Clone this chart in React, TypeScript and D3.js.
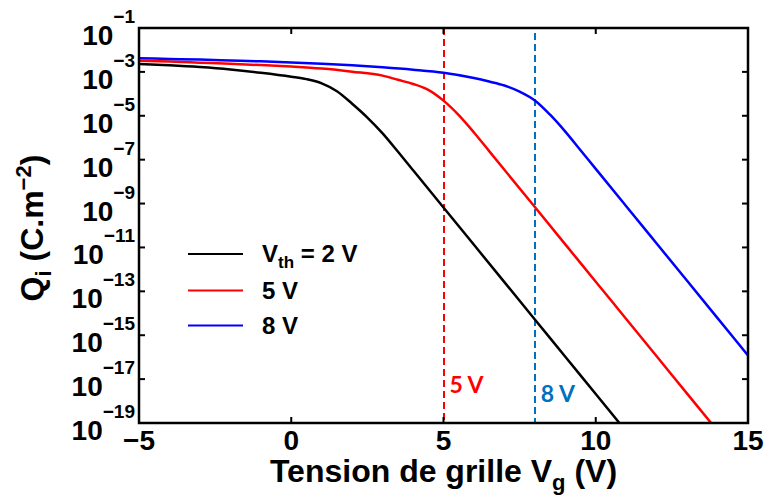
import React from 'react';
import * as d3 from 'd3';

// Gate voltage (V) and log10 of inversion charge Qi (C.m^-2)
const blackVg = [-5, -4, -3, -2, -1, 0, 0.5, 1, 1.5, 2, 2.5, 3, 3.5, 4, 5, 6, 7, 8, 9, 10, 11];
const blackLogQ = [-2.64, -2.70, -2.78, -2.89, -3.04, -3.22, -3.33, -3.52, -3.88, -4.45, -5.08, -5.80, -6.63, -7.48, -9.18, -10.88, -12.58, -14.28, -15.98, -17.68, -19.38];

const redVg = [-5, -4, -3, -2, -1, 0, 1, 2, 3, 3.5, 4, 4.5, 5, 5.5, 6, 6.5, 7, 8, 9, 10, 11, 12, 13, 14];
const redLogQ = [-2.49, -2.53, -2.58, -2.63, -2.69, -2.76, -2.85, -2.99, -3.17, -3.36, -3.55, -3.82, -4.31, -4.97, -5.76, -6.61, -7.46, -9.16, -10.86, -12.56, -14.26, -15.96, -17.66, -19.36];

const blueVg = [-5, -4, -3, -2, -1, 0, 1, 2, 3, 4, 5, 6, 6.5, 7, 7.5, 8, 8.5, 9, 9.5, 10, 11, 12, 13, 14, 15];
const blueLogQ = [-2.38, -2.41, -2.44, -2.48, -2.52, -2.57, -2.63, -2.70, -2.79, -2.90, -3.04, -3.28, -3.44, -3.62, -3.90, -4.30, -4.95, -5.72, -6.57, -7.42, -9.12, -10.82, -12.52, -14.22, -15.92];

const xTickValues = [-5, 0, 5, 10, 15];
const xTickLabels = ['\u22125', '0', '5', '10', '15'];
const yTickExponents = [-1, -3, -5, -7, -9, -11, -13, -15, -17, -19];
const thresholdLines = [5, 8];
const thresholdLabels = ['5 V', '8 V'];
const legendLabels = ['2 V', '5 V', '8 V'];

const W = 767;
const H = 502;
const M = { left: 139, right: 748, top: 28, bottom: 423 };
const FONT = '"Liberation Sans", Arial, sans-serif';

export default function App() {
  const x = d3.scaleLinear().domain([-5, 15]).range([M.left, M.right]);
  const y = d3.scaleLog().domain([1e-19, 1e-1]).range([M.bottom, M.top]);

  const line = d3
    .line<[number, number]>()
    .x((d) => x(d[0]))
    .y((d) => y(Math.pow(10, d[1])))
    .curve(d3.curveMonotoneX);

  const series = [
    { vg: blackVg, q: blackLogQ, color: '#000000' },
    { vg: redVg, q: redLogQ, color: '#ff0000' },
    { vg: blueVg, q: blueLogQ, color: '#0000ff' },
  ];

  const dashColors = ['#ff0000', '#0070c0'];
  const tickLen = 6;
  const innerYTicks = yTickExponents.filter((e) => e !== -1 && e !== -19);
  const innerXTicks = xTickValues.filter((v) => v !== -5 && v !== 15);

  const legendY = [254, 290.5, 325.5];
  const legendColors = ['#000000', '#ff0000', '#0000ff'];

  return (
    <svg width={W} height={H} style={{ position: 'absolute', left: 0, top: 0, background: '#fff' }} fontFamily={FONT}>
      <defs>
        <clipPath id="plotClip">
          <rect x={M.left} y={M.top} width={M.right - M.left} height={M.bottom - M.top} />
        </clipPath>
      </defs>

      {/* threshold dashed lines */}
      {thresholdLines.map((v, i) => (
        <line
          key={'d' + v}
          x1={Math.round(x(v))}
          x2={Math.round(x(v))}
          y1={i === 0 ? M.top : M.top + 5}
          y2={M.bottom}
          stroke={dashColors[i]}
          strokeWidth={2}
          strokeDasharray="7,4"
        />
      ))}

      {/* curves */}
      <g clipPath="url(#plotClip)">
        {series.map((s, i) => (
          <path
            key={'s' + i}
            d={line(s.vg.map((v, j) => [v, s.q[j]] as [number, number])) || ''}
            fill="none"
            stroke={s.color}
            strokeWidth={2.5}
          />
        ))}
      </g>

      {/* frame */}
      <rect
        x={M.left}
        y={M.top}
        width={M.right - M.left}
        height={M.bottom - M.top}
        fill="none"
        stroke="#000"
        strokeWidth={2.5}
      />

      {/* ticks */}
      {innerYTicks.map((e) => {
        const yy = y(Math.pow(10, e));
        return (
          <g key={'yt' + e}>
            <line x1={M.left} x2={M.left + tickLen} y1={yy} y2={yy} stroke="#000" strokeWidth={2} />
            <line x1={M.right} x2={M.right - tickLen} y1={yy} y2={yy} stroke="#000" strokeWidth={2} />
          </g>
        );
      })}
      {innerXTicks.map((v) => (
        <g key={'xt' + v}>
          <line x1={x(v)} x2={x(v)} y1={M.bottom} y2={M.bottom - tickLen} stroke="#000" strokeWidth={2} />
          <line x1={x(v)} x2={x(v)} y1={M.top} y2={M.top + tickLen} stroke="#000" strokeWidth={2} />
        </g>
      ))}

      {/* y tick labels */}
      {yTickExponents.map((e) => {
        const yy = y(Math.pow(10, e));
        return (
          <text key={'yl' + e} x={135} y={yy + 17} textAnchor="end" fontWeight="bold" fontSize={28} fill="#000">
            <tspan>10</tspan>
            <tspan dy={-22} fontSize={19}>
              {'\u2212' + Math.abs(e)}
            </tspan>
          </text>
        );
      })}

      {/* x tick labels */}
      {xTickValues.map((v, i) => (
        <text key={'xl' + v} x={x(v)} y={450} textAnchor="middle" fontWeight="bold" fontSize={28} fill="#000">
          {xTickLabels[i]}
        </text>
      ))}

      {/* axis titles */}
      <text x={(M.left + M.right) / 2} y={482} textAnchor="middle" fontWeight="bold" fontSize={32} fill="#000">
        <tspan>Tension de grille V</tspan>
        <tspan dy={8} fontSize={22}>g</tspan>
        <tspan dy={-8}> (V)</tspan>
      </text>
      <text
        transform={`translate(43, ${228}) rotate(-90)`}
        textAnchor="middle"
        fontWeight="bold"
        fontSize={32}
        fill="#000"
      >
        <tspan>Q</tspan>
        <tspan dy={8} fontSize={22}>i</tspan>
        <tspan dy={-8}> (C.m</tspan>
        <tspan dy={-12} fontSize={22}>{'\u22122'}</tspan>
        <tspan dy={12}>)</tspan>
      </text>

      {/* threshold annotations */}
      {thresholdLabels.map((t, i) => (
        <text
          key={'ta' + i}
          x={x(thresholdLines[i]) + 6}
          y={i === 0 ? 393 : 402}
          fontFamily="Lato, 'Open Sans', sans-serif"
          fontWeight="bold"
          fontSize={23}
          fill={dashColors[i]}
        >
          {t}
        </text>
      ))}

      {/* legend */}
      {legendLabels.map((t, i) => (
        <g key={'lg' + i}>
          <line x1={188} x2={243} y1={legendY[i]} y2={legendY[i]} stroke={legendColors[i]} strokeWidth={2.2} />
          <text x={262} y={legendY[i] + 8} fontWeight="bold" fontSize={24} fill="#000">
            {i === 0 ? (
              <>
                <tspan>V</tspan>
                <tspan dy={6} fontSize={17}>th</tspan>
                <tspan dy={-6}>{' = ' + t}</tspan>
              </>
            ) : (
              t
            )}
          </text>
        </g>
      ))}
    </svg>
  );
}
